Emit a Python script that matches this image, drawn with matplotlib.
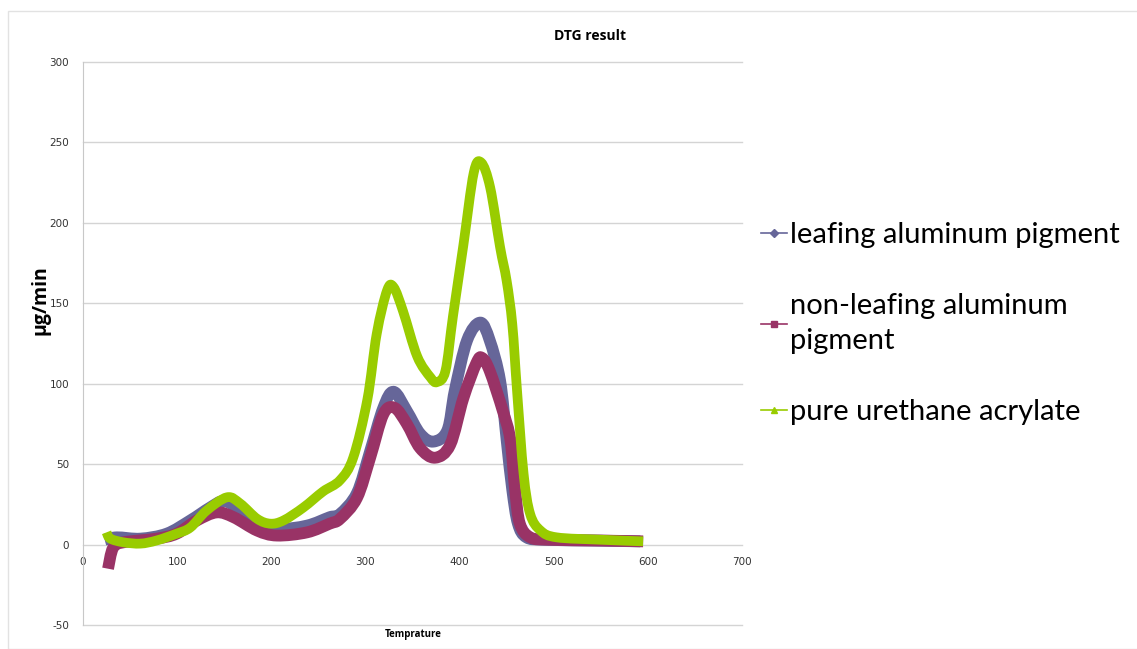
import numpy as np
import matplotlib.pyplot as plt
from matplotlib.path import Path
from matplotlib.patches import PathPatch, Rectangle
from matplotlib.lines import Line2D

plt.rcParams['axes.unicode_minus'] = False

# values (temperature, ug/min)
leaf_t = [23, 36, 61, 89, 114, 135, 149, 163, 185, 206, 238, 262, 273, 291, 305, 319,
          330, 344, 358, 372, 387, 395, 408, 422, 432, 443, 450, 456, 462, 471, 490, 540, 592]
leaf_v = [3, 4.5, 3.7, 6.8, 15, 23, 27, 23, 10.8, 9.3, 11.8, 17, 19, 32, 58, 85,
          95, 83, 69, 64, 71, 96, 127, 138, 127, 102, 65, 34, 13, 4.5, 3, 2.5, 2]

nonleaf_t = [26.6, 32, 43, 78, 99.5, 121, 142, 160, 185, 206, 238, 262, 273, 291, 305, 319,
             331, 344, 358, 374, 390, 404, 418, 424, 432, 446, 454, 459, 464, 475, 495, 550, 595]
nonleaf_v = [-15, -2, 1.4, 3.7, 6.8, 15, 20, 17, 8.7, 5.6, 7.6, 13, 16, 29, 54, 81,
             85, 75, 60, 54, 62, 91, 113, 116, 108, 83, 65, 34, 13, 4.5, 3, 2.5, 2]

pure_t = [25, 29, 43, 61, 78, 99.5, 114, 131, 153, 167, 185, 199, 213, 234, 255, 273,
          287, 302, 312, 323, 330, 340, 355, 369, 376, 385, 393, 404, 415, 423, 432.5,
          443, 450, 456, 461, 468, 475, 486, 503, 550, 595]
pure_v = [7.6, 3.7, 1.4, 0.6, 2.5, 6.8, 10.6, 21, 29.4, 25.5, 16, 13, 15, 23, 33, 40,
          54, 90, 131, 158, 160, 145, 117, 104, 101, 108, 142, 186, 231, 237.5, 222,
          185, 164, 137, 96, 44, 19, 8.7, 4.5, 3, 2]

labels = ['leafing aluminum pigment', 'non-leafing aluminum\npigment',
          'pure urethane acrylate']
colors = ['#666699', '#993366', '#99cc00']
markers = ['D', 's', '^']
x_ticks = [0, 100, 200, 300, 400, 500, 600, 700]
y_ticks = [-50, 0, 50, 100, 150, 200, 250, 300]


def smooth_path(xs, ys):
    # Catmull-Rom style bezier through the points, like Excel's smoothed line
    p = np.column_stack([xs, ys]).astype(float)
    verts = [p[0]]
    codes = [Path.MOVETO]
    n = len(p)
    for i in range(n - 1):
        p0 = p[i - 1] if i > 0 else p[i]
        p3 = p[i + 2] if i + 2 < n else p[i + 1]
        c1 = p[i] + (p[i + 1] - p0) / 6
        c2 = p[i + 1] - (p3 - p[i]) / 6
        verts += [c1, c2, p[i + 1]]
        codes += [Path.CURVE4] * 3
    return Path(verts, codes)


fig = plt.figure(figsize=(11.37, 6.49), dpi=100)
fig.patches.append(Rectangle((8 / 1137, 0), 1.2, 1 - 11 / 649, transform=fig.transFigure,
                             fill=False, edgecolor='#e2e2e2', lw=1))
ax = fig.add_axes([83 / 1137, 1 - 625 / 649, (742 - 83) / 1137, (625 - 62) / 649])

ax.set_xlim(0, 700)
ax.set_ylim(-50, 300)
ax.set_xticks(x_ticks)
ax.set_yticks(y_ticks)
ax.yaxis.grid(True, color='#d4d4d4', lw=1)
for g in ax.get_ygridlines():
    g.set_clip_on(False)
ax.set_axisbelow(True)
for s in ['top', 'right', 'bottom']:
    ax.spines[s].set_visible(False)
ax.spines['left'].set_color('#c8c8c8')
ax.spines['bottom'].set_position(('data', 0))
ax.tick_params(length=0, labelsize=7.5, labelcolor='#333333')
ax.tick_params(axis='x', pad=9)
ax.tick_params(axis='y', pad=10)

widths = [8.5, 8.5, 7]
for (xs, ys), c, w in zip([(leaf_t, leaf_v), (nonleaf_t, nonleaf_v), (pure_t, pure_v)],
                          colors, widths):
    ax.add_patch(PathPatch(smooth_path(xs, ys), fill=False, edgecolor=c, lw=w,
                           joinstyle='round', capstyle='butt'))

fig.text(590 / 1137, 1 - 36 / 649, 'DTG result', ha='center', va='center',
         fontsize=10, fontweight='bold', family='Open Sans')
fig.text(413 / 1137, 1 - 634 / 649, 'Temprature', ha='center', va='center',
         fontsize=7, fontweight='bold', family='Open Sans')
fig.text(40 / 1137, 1 - 300 / 649, 'µg/min', ha='center', va='center', rotation=90,
         fontsize=14, fontweight='bold', family='Open Sans')

handles = [Line2D([], [], color=c, lw=1.2, marker=m, markersize=4)
           for c, m in zip(colors, markers)]
leg = fig.legend(handles, labels, loc='upper left', bbox_to_anchor=(761 / 1137, 1 - 222 / 649),
                 frameon=False, prop={'family': 'Lato', 'size': 21}, handlelength=0.9,
                 handletextpad=0.1, labelspacing=1.55, borderpad=0, borderaxespad=0)
for t in leg.get_texts():
    t.set_linespacing(1.4)

plt.savefig('out.png', dpi=100)
